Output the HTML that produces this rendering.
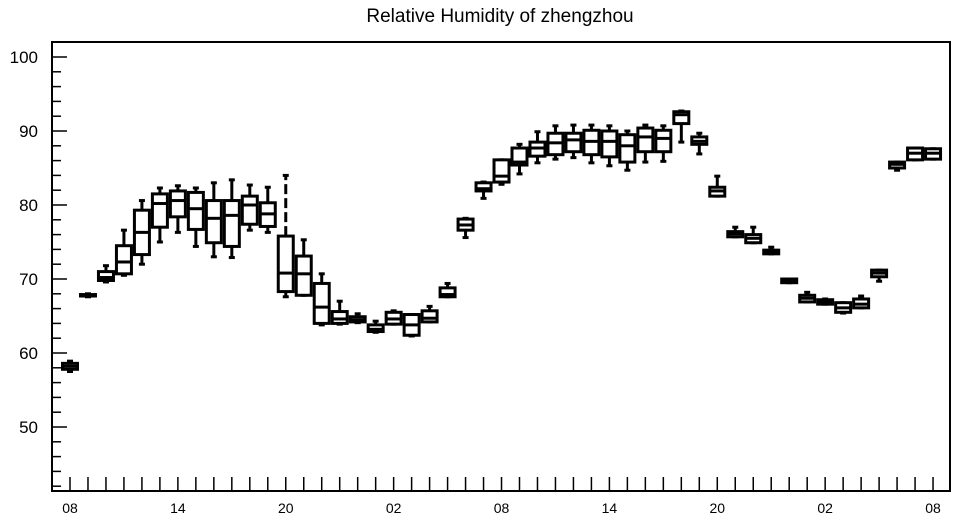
<!DOCTYPE html>
<html><head><meta charset="utf-8"><style>
body{margin:0;background:#fff;}
svg{display:block;font-family:"Liberation Sans",sans-serif;}
</style></head><body>
<svg id="chart" width="957" height="520">
<text x="500" y="22" text-anchor="middle" font-size="19">Relative Humidity of zhengzhou</text>
<rect x="52" y="42" width="898" height="449" fill="none" stroke="#000" stroke-width="2"/>
<g id="axes"></g><g id="boxes"></g>
</svg>
<script>
const lows   =[57.5,67.6,69.6,70.5,72.0,75.0,76.3,74.4,73.0,72.9,76.6,76.3,67.6,67.8,63.8,63.9,64.1,62.8,63.9,62.3,64.2,67.6,75.6,80.9,82.8,84.2,85.7,86.2,86.4,85.7,85.3,84.7,85.8,85.9,88.5,86.9,81.2,75.7,74.9,73.4,69.5,66.9,66.6,65.4,66.1,69.7,84.7,86.1,86.2];
const q1s    =[57.8,67.7,69.8,70.7,73.3,77.0,78.4,76.7,74.9,74.4,77.4,77.1,68.3,67.8,64.0,64.0,64.2,62.9,63.9,62.4,64.2,67.6,76.6,81.9,83.1,85.4,86.6,86.8,87.2,86.8,86.5,85.8,87.2,87.2,91.0,88.2,81.2,75.7,74.9,73.4,69.5,66.9,66.6,65.5,66.1,70.3,85.0,86.1,86.2];
const medians=[58.2,67.8,70.2,72.3,76.3,80.2,80.6,79.5,78.2,78.6,80.0,78.8,70.8,70.7,66.2,64.6,64.5,63.2,64.6,63.8,64.7,67.9,77.3,82.2,83.9,85.8,87.7,88.4,88.8,88.6,88.6,88.0,89.2,89.0,92.2,88.6,81.9,76.1,75.5,73.6,69.7,67.4,66.9,66.1,66.6,70.8,85.5,87.0,87.0];
const q3s    =[58.6,67.9,71.0,74.5,79.3,81.5,81.9,81.7,80.6,80.6,81.2,80.3,75.8,73.1,69.4,65.6,64.9,63.8,65.5,65.2,65.7,68.8,78.1,83.0,86.1,87.7,88.5,89.7,89.7,90.1,90.0,89.5,90.4,90.1,92.6,89.2,82.4,76.4,76.0,73.9,70.0,67.8,67.2,66.8,67.3,71.2,85.8,87.7,87.6];
const highs  =[58.9,68.0,71.8,76.6,80.6,82.3,82.6,82.3,83.0,83.4,82.7,82.4,84.0,75.3,70.7,67.0,65.3,64.3,65.7,65.2,66.3,69.4,78.2,83.1,86.1,88.2,89.9,90.7,90.8,90.8,90.7,90.0,90.8,90.7,92.7,89.7,83.9,77.0,77.0,74.3,70.0,68.2,67.3,66.8,67.7,71.2,85.8,87.7,87.6];
const yTicks=[50,60,70,80,90,100];
const xLabels=["08","14","20","02","08","14","20","02","08"];
const NS="http://www.w3.org/2000/svg";
const X0=52,X1=950,Y0=42,Y1=491;
const xs=i=>70+i*17.98;
const ys=v=>57+(100-v)*7.4;
function mk(t,a,p){const e=document.createElementNS(NS,t);for(const k in a)e.setAttribute(k,a[k]);p.appendChild(e);return e;}
const ax=document.getElementById('axes');
for(let v=42;v<=100;v+=2){const maj=v%10===0;const t=mk('line',{x1:X0,x2:X0+(maj?15:9),y1:ys(v),y2:ys(v),stroke:'#000','stroke-width':1.5},ax);

}
yTicks.forEach(v=>{const t=mk('text',{x:38,y:ys(v)+6,'text-anchor':'end','font-size':17},ax);t.textContent=v;

});
for(let i=0;i<lows.length;i++){const t=mk('line',{x1:xs(i),x2:xs(i),y1:Y1,y2:Y1-14,stroke:'#000','stroke-width':1.5},ax);

}
xLabels.forEach((s,k)=>{const t=mk('text',{x:xs(k*6),y:513,'text-anchor':'middle','font-size':14},ax);t.textContent=s;

});
const bx=document.getElementById('boxes');
const hw=7.5,cw=3;
for(let i=0;i<lows.length;i++){
 const g=mk('g',{stroke:'#000','stroke-width':3,fill:'none'},bx);
 
 
 const x=xs(i);
 const dash=(highs[i]-q3s[i])>5?{'stroke-dasharray':'10,4'}:{};
 mk('line',Object.assign({x1:x,x2:x,y1:ys(q3s[i]),y2:ys(highs[i])},dash),g);
 mk('line',{x1:x,x2:x,y1:ys(q1s[i]),y2:ys(lows[i])},g);
 mk('line',{x1:x-cw,x2:x+cw,y1:ys(highs[i]),y2:ys(highs[i])},g);
 mk('line',{x1:x-cw,x2:x+cw,y1:ys(lows[i]),y2:ys(lows[i])},g);
 mk('rect',{x:x-hw,y:ys(q3s[i]),width:2*hw,height:Math.max(1,ys(q1s[i])-ys(q3s[i])),fill:'#fff'},g);
 mk('line',{x1:x-hw,x2:x+hw,y1:ys(medians[i]),y2:ys(medians[i])},g);
}
</script>
</body></html>
